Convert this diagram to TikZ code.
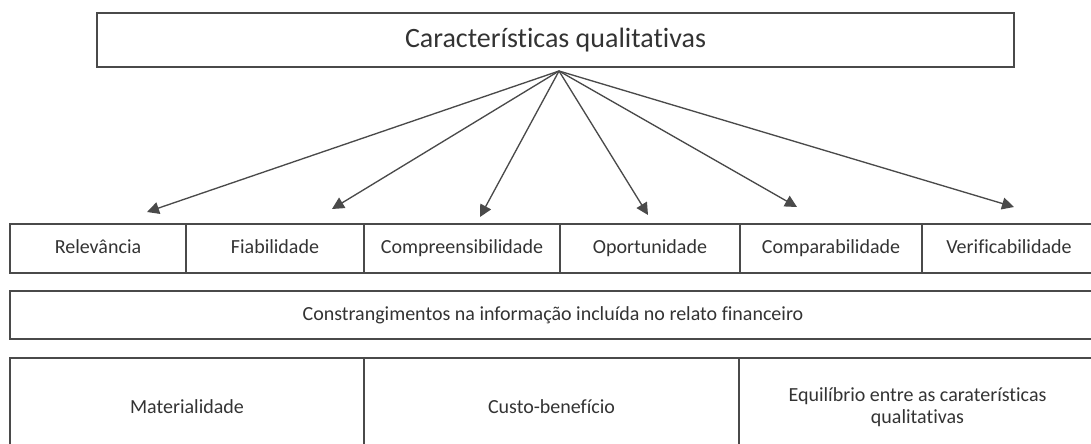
\documentclass[tikz,border=0pt]{standalone}
\usepackage{fontspec}
\setmainfont[Ligatures={NoCommon}]{Carlito}
\usetikzlibrary{arrows.meta}

\definecolor{ink}{HTML}{4A4A4A}
\definecolor{txt}{HTML}{333333}

\begin{document}
\begin{tikzpicture}[
  x=0.75pt, y=-0.75pt,
  font=\fontsize{15}{17}\selectfont,
  box/.style={draw=ink, line width=2pt, align=center, text=txt, inner sep=0pt},
  cell/.style={box, minimum height=36.75pt, text height=11pt, text depth=3pt},
  wide/.style={box, minimum height=73.5pt},
  arrow/.style={-{Triangle[length=9pt,width=9pt]}, draw=ink, line width=1pt}
]
\useasboundingbox (0,0) rectangle (1091,443);

\node[box, minimum width=687.75pt, minimum height=40.5pt, font=\fontsize{21}{25}\selectfont] (quali) at (555.5,40)
  {Características qualitativas};

\node[cell, minimum width=132pt] (rel) at (98,248.5) {Relevância};
\node[cell, minimum width=133.5pt] (fia) at (275,248.5) {Fiabilidade};
\node[cell, minimum width=147pt] (compr) at (462,248.5) {Compreensibilidade};
\node[cell, minimum width=135pt] (oport) at (650,248.5) {Oportunidade};
\node[cell, minimum width=136.5pt] (compa) at (831,248.5) {Comparabilidade};
\node[cell, minimum width=130.5pt] (verif) at (1009,248.5) {Verificabilidade};

\node[box, minimum width=814.5pt, minimum height=36pt, text height=11pt, text depth=3pt] (constr) at (553,315)
  {Constrangimentos na informação incluída no relato financeiro};

\node[wide, minimum width=265.5pt] (mat) at (187,407) {Materialidade};
\node[wide, minimum width=281.25pt] (custo) at (551.5,407) {Custo-benefício};
\node[wide, minimum width=267.75pt] (equil) at (917.5,407)
  {Equilíbrio entre as caraterísticas\\qualitativas};

\coordinate (hub) at (559,71);
\coordinate (relTip) at (147,212);
\coordinate (fiaTip) at (332,209);
\coordinate (comprTip) at (480,217);
\coordinate (oportTip) at (648,215);
\coordinate (compaTip) at (797,207);
\coordinate (verifTip) at (1014,207);

\draw[arrow] (hub) -- (relTip);
\draw[arrow] (hub) -- (fiaTip);
\draw[arrow] (hub) -- (comprTip);
\draw[arrow] (hub) -- (oportTip);
\draw[arrow] (hub) -- (compaTip);
\draw[arrow] (hub) -- (verifTip);

\end{tikzpicture}
\end{document}
